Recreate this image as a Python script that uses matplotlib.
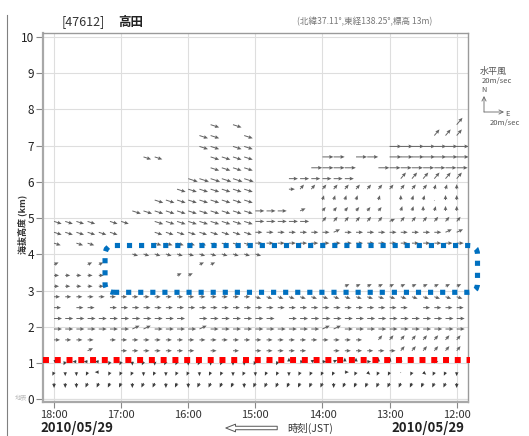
import numpy as np
import matplotlib.pyplot as plt
from matplotlib.patches import FancyBboxPatch
from matplotlib.transforms import IdentityTransform
from matplotlib.lines import Line2D

plt.rcParams['font.family'] = ['Noto Sans CJK JP', 'DejaVu Sans']

# observation columns (10 min), left = 18:00, right = 12:00
obs_times = ["18:00", "17:50", "17:40", "17:30", "17:20", "17:10",
             "17:00", "16:50", "16:40", "16:30", "16:20", "16:10",
             "16:00", "15:50", "15:40", "15:30", "15:20", "15:10",
             "15:00", "14:50", "14:40", "14:30", "14:20", "14:10",
             "14:00", "13:50", "13:40", "13:30", "13:20", "13:10",
             "13:00", "12:50", "12:40", "12:30", "12:20", "12:10",
             "12:00"]

# observation heights (km), top to bottom
heights_km = [7.58, 7.28, 6.98, 6.69, 6.39, 6.09, 5.80, 5.50, 5.20, 4.91,
              4.61, 4.31, 4.01, 3.72, 3.42, 3.12, 2.83, 2.53, 2.23, 1.94,
              1.64, 1.34, 1.04, 0.75, 0.45]

# arrow direction per cell ('.' = no data), groups of one hour
wind_dir = [
    "......|......|..s.s.|......|......|......|u",
    "......|......|.ss..s|......|......|....uu|u",
    "......|......|.ss.ss|......|......|eeeeee|e",
    "......|..ss..|..ssss|......|ee.ee.|eeeeee|e",
    "......|......|..ssss|.....e|eee..e|eeeeee|e",
    "......|......|ssssss|...eee|eee...|.uuuuu|u",
    "......|.....s|ssssss|...euu|uuuuuu|uuuuww|N",
    "......|...sss|ssssss|......|wwww.w|.NwwoN|N",
    "......|.sssss|ssssss|eee.n.|uuuuuu|.wwNwN|N",
    "ssss.s|s..sss|ssssss|eeeee.|uuuuuu|nuuuuu|u",
    "ssssss|...sss|ssssss|eeeeee|eneeee|eeeeen|n",
    "s.ss..|...sss|ssssss|eeeeee|eeeeee|eeeeee|e",
    "......|.sssss|ssssss|s.....|......|......|.",
    "n..nn.|......|.nn...|......|......|......|.",
    "eeeee.|.....n|n.....|......|......|......|.",
    "eeeee.|......|......|......|..nnnn|nnnnnn|n",
    "eeeeee|eeeeee|eeeeee|ssssss|ssssss|ssssss|s",
    "e.ee.e|eeeeee|eeeeee|eeeeee|eeeeee|ee.eee|e",
    "eeeeee|eeeeee|.eeeee|ee.eee|eeeeee|eeeeee|e",
    "eeeeee|enneee|eneeee|eeeeee|nneeee|eeeeee|e",
    "eeee.e|eeeeee|eeeeee|eeeeee|eeee.u|uuuuuu|u",
    "...n..|eeeeee|e.e.e.|eeeee.|.eeeee|euuuuu|u",
    "nl<<<l|ldldll|dldldd|lolNen|enNNeN|wNNNeN|N",
    "lddl<l|lldldl|ldlldl|dlldll|llelrl|lolrll|d",
    "dddlll|ldlldl|dlllld|llllll|ldllll|llllll|d",
]

# wind speed per cell (m/s, hex digit)
wind_speed = [
    "999999|999999|999999|999999|999999|999999|9",
    "999999|999999|999999|999999|999999|888888|8",
    "999999|999999|999999|999999|999999|cccccc|c",
    "888888|888888|999999|999999|bbbbbb|cccccc|c",
    "999999|999999|999999|bbbbbb|bbbbbb|bbbbbb|b",
    "aaaaaa|aaaaaa|aaaaaa|999999|999999|888888|8",
    "999999|999999|999999|777666|666666|666655|5",
    "999999|999999|999999|555555|555555|555515|5",
    "999999|999999|999999|999666|555555|555555|5",
    "888888|899999|999999|999996|666666|666666|6",
    "888888|888888|888888|777777|777777|777777|7",
    "777777|777777|777777|777777|777777|777777|7",
    "666666|666666|666666|666666|666666|666666|6",
    "555555|555555|555555|555555|555555|555555|5",
    "555555|555555|555555|555555|555555|555555|5",
    "555555|555555|555555|555555|555555|555555|5",
    "666666|666666|666666|666666|666666|666666|6",
    "777777|777777|777777|777777|777777|777777|7",
    "888888|888888|888888|888888|888888|888888|8",
    "888888|888888|888888|888888|888888|888888|8",
    "666666|666666|666666|666666|666666|666666|6",
    "666666|666666|666666|666666|666666|666666|6",
    "444444|444444|444444|414444|444444|444444|4",
    "444444|444444|444444|444444|444444|414444|4",
    "555555|555555|555555|555555|555555|555555|5",
]

# screen angle of each arrow code (degrees)
arrow_angle = {"e": 0, "s": -18, "n": 25, "u": 50, "w": 72, "N": 90,
               "d": -90, "l": -115, "<": 180, "r": -40, "o": -90}

hour_ticks = [18, 17, 16, 15, 14, 13, 12]
hour_labels = ["18:00", "17:00", "16:00", "15:00", "14:00", "13:00", "12:00"]

red_line_km = 1.085
box_km = (2.953, 4.245)
box_time = (17.24, 11.69)

t_hours = [int(s[:2]) + int(s[3:]) / 60 for s in obs_times]

W, H = 529, 436
fig = plt.figure(figsize=(W / 100, H / 100), dpi=100)
ax = fig.add_axes([43.3 / W, 1 - 401.7 / H, (467.7 - 43.3) / W, (401.7 - 33) / H])
ax.set_xlim(18.16, 11.836)
ax.set_ylim(-0.066, 10.11)


def px(x, y):
    return x / W, 1 - y / H


# wind arrows
groups = {"upper": ([], [], [], []), "lower": ([], [], [], [])}
for h, drow, srow in zip(heights_km, wind_dir, wind_speed):
    drow = drow.replace("|", "")
    srow = srow.replace("|", "")
    assert len(drow) == 37 and len(srow) == 37
    g = groups["lower"] if h < 1.2 else groups["upper"]
    for t, d, s in zip(t_hours, drow, srow):
        if d == ".":
            continue
        a = np.deg2rad(arrow_angle[d])
        spd = int(s, 16)
        g[0].append(t)
        g[1].append(h)
        g[2].append(spd * np.cos(a))
        g[3].append(spd * np.sin(a))

for name, col in [("upper", "#626262"), ("lower", "#3a3a3a")]:
    x, y, u, v = groups[name]
    ax.quiver(x, y, u, v, angles="uv", scale_units="dots", scale=1,
              units="dots", width=0.95, headwidth=4, headlength=4.5,
              headaxislength=4, pivot="tail", color=col, zorder=3)

# axes styling
ax.set_xticks(hour_ticks)
ax.set_xticklabels(hour_labels)
ax.set_yticks(range(11))
ax.grid(True, color="#dedede", lw=0.8, zorder=0)
ax.axhline(0, color="#d0d0d0", lw=0.8, zorder=1)
ax.tick_params(axis="x", length=4, color="#888888", labelsize=8, pad=2,
               labelcolor="#333333")
ax.tick_params(axis="y", length=5, color="#888888", labelsize=8.5, pad=1.5,
               labelcolor="#222222")
for side in ["left", "bottom"]:
    ax.spines[side].set_color("#a8a8a8")
    ax.spines[side].set_linewidth(1.6)
for side in ["top", "right"]:
    ax.spines[side].set_color("#9a9a9a")
    ax.spines[side].set_linewidth(1.0)

# red dotted line
ax.plot([18.16, 11.80], [red_line_km, red_line_km], color="#ff0000",
        lw=4.3, ls=(0, (1, 0.97)), clip_on=False, zorder=6)

# blue dotted rounded box
bx0, by0 = ax.transData.transform((box_time[0], box_km[0]))
bx1, by1 = ax.transData.transform((box_time[1], box_km[1]))
box = FancyBboxPatch((bx0, by0), bx1 - bx0, by1 - by0,
                     boxstyle="round,pad=0,rounding_size=9",
                     transform=IdentityTransform(), fill=False,
                     edgecolor="#0070c0", linewidth=3.7,
                     linestyle=(0, (1, 1.35)), zorder=6)
fig.add_artist(box)

# header texts
fig.text(*px(83, 22), "[47612]", fontsize=9, color="#333333", ha="center", va="center")
fig.text(*px(131, 22), "高田", fontsize=9, fontweight="bold", color="#222222",
         ha="center", va="center")
fig.text(*px(297, 22), "(北緯37.11°,東経138.25°,標高 13m)", fontsize=6.2,
         color="#777777", ha="left", va="center")

# axis labels
fig.text(*px(22, 224), "海抜高度 (km)", rotation=90, fontsize=6.5,
         fontweight="bold", color="#333333", ha="center", va="center")
fig.text(*px(21, 398), "地表", fontsize=4.5, color="#c0c0c0", ha="center", va="center")
fig.text(*px(40, 428), "2010/05/29", fontsize=9.5, fontweight="bold",
         color="#222222", ha="left", va="center")
fig.text(*px(464, 428), "2010/05/29", fontsize=9.5, fontweight="bold",
         color="#222222", ha="right", va="center")
fig.text(*px(287, 428), "時刻(JST)", fontsize=7.5, color="#333333",
         ha="left", va="center")
fig.add_artist(plt.Annotation(
    "", xy=px(223, 428), xytext=px(280, 428), xycoords="figure fraction",
    textcoords="figure fraction",
    arrowprops=dict(arrowstyle="simple,head_width=0.55,head_length=0.7,tail_width=0.25",
                    fc="white", ec="#555555", lw=0.7)))

# legend for arrows
fig.text(*px(480, 71), "水平風", fontsize=6.5, color="#555555", ha="left", va="center")
fig.text(*px(482, 81), "20m/sec", fontsize=5.5, color="#555555", ha="left", va="center")
fig.text(*px(484, 90), "N", fontsize=5.2, color="#555555", ha="center", va="center")
fig.text(*px(505, 114), "E", fontsize=5.5, color="#555555", ha="left", va="center")
fig.text(*px(490, 123), "20m/sec", fontsize=5.5, color="#555555", ha="left", va="center")
for end in [(484, 96), (504, 112)]:
    fig.add_artist(plt.Annotation(
        "", xy=px(*end), xytext=px(484, 112), xycoords="figure fraction",
        textcoords="figure fraction",
        arrowprops=dict(arrowstyle="->,head_width=0.15,head_length=0.3",
                        color="#666666", lw=0.6, shrinkA=0, shrinkB=0)))

# page border line on the left
fig.add_artist(Line2D([7 / W, 7 / W], [0, 1 - 15 / H], transform=fig.transFigure,
                      color="#808080", lw=0.8))

fig.savefig("out.png", dpi=100)
